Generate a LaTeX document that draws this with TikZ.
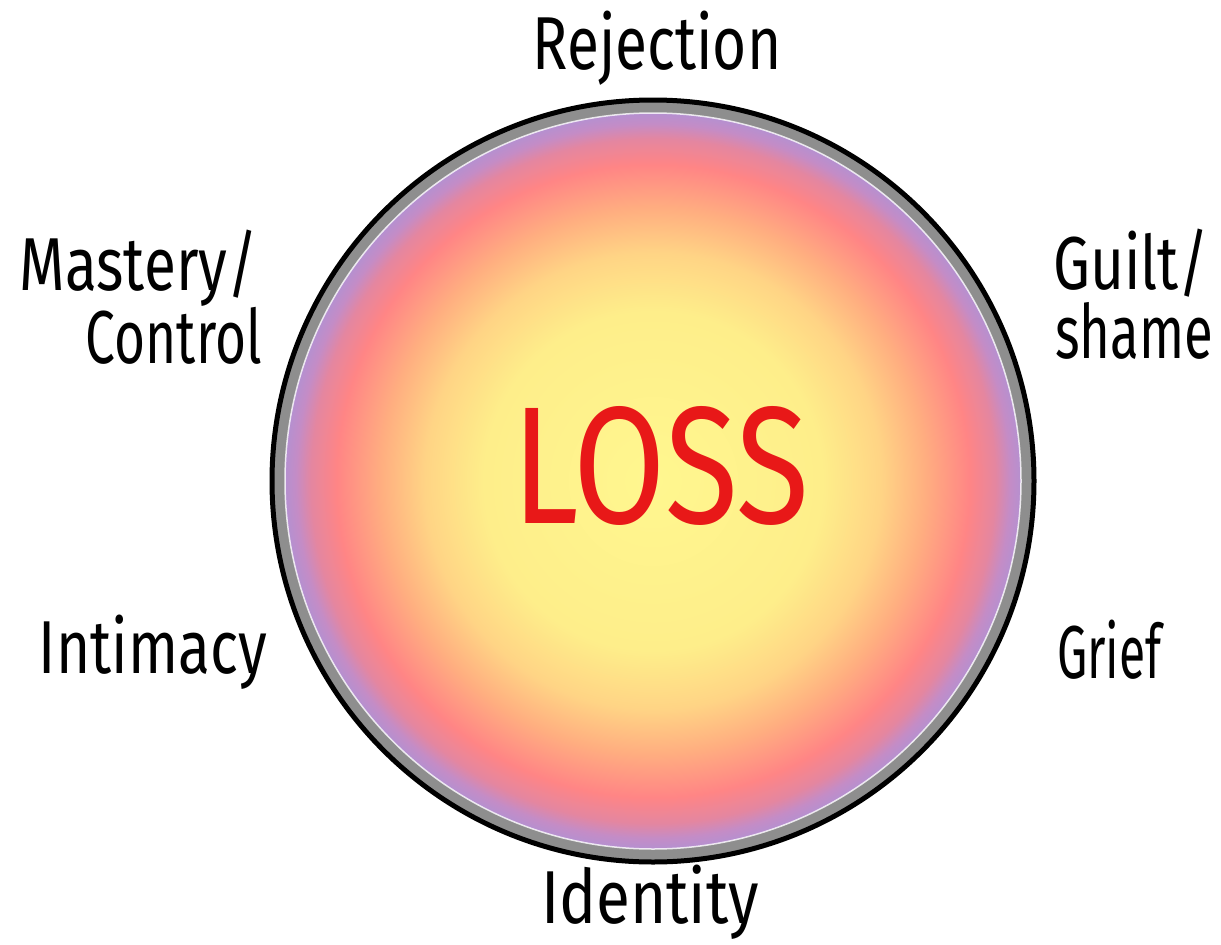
\documentclass[tikz,border=0pt]{standalone}
\usepackage{fontspec}
\newfontfamily\labelfont[FakeStretch=0.78]{Fira Sans}
\newfontfamily\lossfont[FakeStretch=0.80]{Fira Sans}
\definecolor{cY0}{HTML}{FFF78F}
\definecolor{cY1}{HTML}{FEEE8A}
\definecolor{cY2}{HTML}{FFD485}
\definecolor{cO}{HTML}{FFAE80}
\definecolor{cS}{HTML}{FF8585}
\definecolor{cP}{HTML}{E486A0}
\definecolor{cL}{HTML}{C48CC6}
\definecolor{cL2}{HTML}{B590D0}
\definecolor{ringgray}{HTML}{8E8E8E}
\definecolor{lossred}{HTML}{E81818}
\pgfdeclareradialshading{lossshade}{\pgfpoint{0bp}{0bp}}{%
color(0bp)=(cY0); color(11.5bp)=(cY1); color(15.5bp)=(cY2); color(18.5bp)=(cO);
color(21.5bp)=(cS); color(23.25bp)=(cP); color(24.25bp)=(cL); color(25bp)=(cL2); color(50bp)=(cL2)}
\tikzset{
  lbl/.style={inner sep=0pt, font=\labelfont\fontsize{75}{75}\selectfont, text=black},
  losslbl/.style={inner sep=0pt, font=\lossfont\fontsize{167}{167}\selectfont, text=lossred},
}
\begin{document}
\begin{tikzpicture}[x=1pt,y=-1pt]
\useasboundingbox[fill=white] (0,0) rectangle (1221,945);
\coordinate (c) at (653,481);
% ring
\fill[ringgray] (c) circle (381);
\draw[black, line width=5pt] (c) circle (381);
\shade[shading=lossshade] (c) circle (368);
\draw[white, opacity=0.8, line width=1.5pt] (c) circle (368);
% labels
\node[losslbl, anchor=base] (loss) at (661,523) {LOSS};
\node[lbl, anchor=base] (rej) at (657,69) {Rejection};
\node[lbl, anchor=base east] (mast1) at (258,290) {Mastery/};
\node[lbl, anchor=base east] (mast2) at (262,363) {\scalebox{0.91}[1]{Control}};
\node[lbl, anchor=base west] (guilt1) at (1053,289) {Guilt/};
\node[lbl, anchor=base west] (guilt2) at (1055,358) {\scalebox{0.9}[1]{shame}};
\node[lbl, anchor=base east] (intim) at (267,673) {Intimacy};
\node[lbl, anchor=base west] (grief) at (1057,678) {\scalebox{0.82}[1]{Grief}};
\node[lbl, anchor=base] (ident) at (650,923) {\scalebox{1.06}[1]{Identity}};
\end{tikzpicture}
\end{document}
